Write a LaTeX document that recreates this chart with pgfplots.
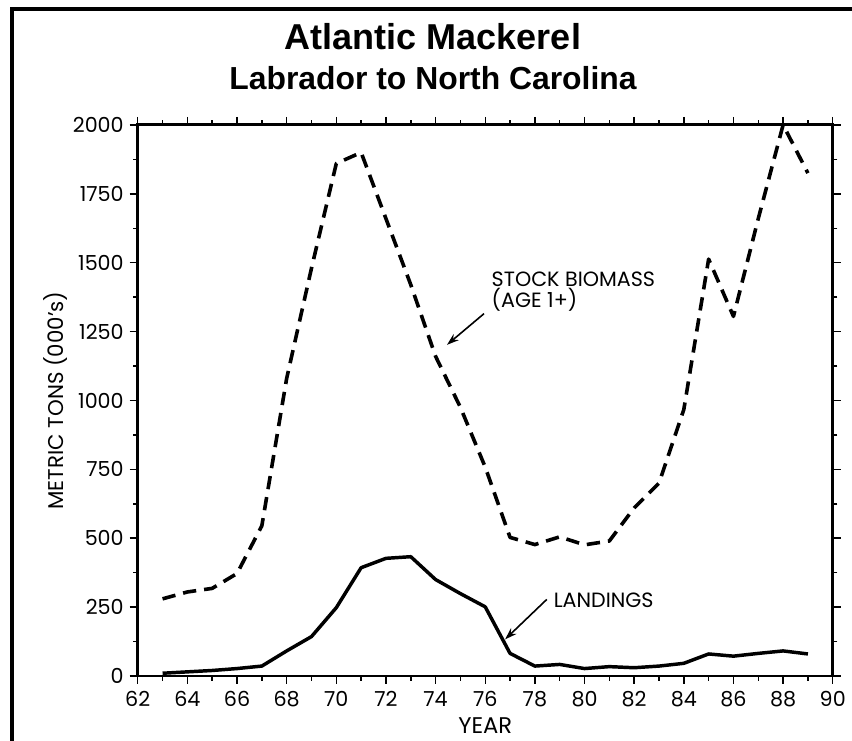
\documentclass[border=0pt]{standalone}
\usepackage{pgfplots}
\pgfplotsset{compat=1.18}
\usepackage{pgfplotstable}
\usepackage{fontspec}
\setmainfont{Poppins}
\newfontfamily\titlefont{Liberation Sans}
\usetikzlibrary{arrows.meta}

\pgfplotstableread{
year biomass
63 280
64 305
65 318
66 372
67 545
68 1080
69 1480
70 1860
71 1900
72 1660
73 1420
74 1160
75 975
76 758
77 503
78 477
79 505
80 476
81 490
82 610
83 700
84 967
85 1513
86 1305
87 1660
88 2000
89 1825
}\biomass

\pgfplotstableread{
year landings
63 10
64 15
65 20
66 27
67 36
68 91
69 143
70 248
71 393
72 427
73 433
74 350
75 299
76 251
77 82
78 36
79 42
80 27
81 34
82 30
83 36
84 46
85 80
86 72
87 82
88 91
89 80
}\landings

\begin{document}
\begin{tikzpicture}
\useasboundingbox (0pt,0pt) rectangle (639pt,555.75pt);
% outer frame (right and bottom edges fall outside the picture)
\draw[line width=2.4pt] (9pt,-20pt) -- (9pt,549pt) -- (700pt,549pt);
\node[anchor=base,font=\titlefont\bfseries\fontsize{27}{30}\selectfont] at (324.75pt,518.25pt) {Atlantic Mackerel};
\node[anchor=base,font=\titlefont\bfseries\fontsize{23.9}{27}\selectfont] at (324.75pt,488.25pt) {Labrador to North Carolina};
\begin{axis}[
  at={(103.3pt,48.75pt)}, anchor=south west,
  scale only axis,
  width=521.25pt, height=413.3pt,
  xmin=62, xmax=90, ymin=0, ymax=2000,
  xtick={62,64,...,90},
  minor xtick={63,65,...,89},
  ytick={0,250,...,2000},
  minor ytick={125,375,...,1875},
  tick align=outside,
  major tick length=6pt,
  minor tick length=3.5pt,
  every tick/.style={black, line width=1.1pt},
  axis line style={line width=2.2pt},
  x tick label style={font=\fontsize{15.5}{17}\selectfont, yshift=-2pt},
  y tick label style={font=\fontsize{15.5}{17}\selectfont, xshift=-1pt},
  /pgf/number format/assume math mode=true,
  /pgf/number format/set thousands separator={},
  xlabel={YEAR},
  ylabel={METRIC TONS (000's)},
  xlabel style={font=\fontsize{17}{20}\selectfont, inner sep=0pt, at={(axis description cs:0.5,-0.104)}, anchor=base},
  ylabel style={font=\fontsize{16}{19}\selectfont, inner sep=0pt, at={(axis description cs:-0.118,0.5)}, anchor=center},
  clip=false,
]
\addplot[black, line width=2.7pt, dash pattern=on 10pt off 6pt, line join=round] table[x=year,y=biomass] {\biomass};
\addplot[black, line width=2.6pt, line join=round] table[x=year,y=landings] {\landings};
\node[anchor=base west, align=left, font=\fontsize{15.5}{12.75}\selectfont, inner sep=0pt] at (axis cs:76.25,1338) {STOCK BIOMASS\\(AGE 1+)};
\draw[line width=1.2pt, -{Stealth[length=9pt,width=6pt]}] (axis cs:75.95,1315) -- (axis cs:74.46,1202);
\node[anchor=base west, font=\fontsize{15.5}{13}\selectfont, inner sep=0pt] at (axis cs:78.75,248) {LANDINGS};
\draw[line width=1.2pt, -{Stealth[length=9pt,width=6pt]}] (axis cs:78.48,278) -- (axis cs:76.80,133);
\end{axis}
\end{tikzpicture}
\end{document}
